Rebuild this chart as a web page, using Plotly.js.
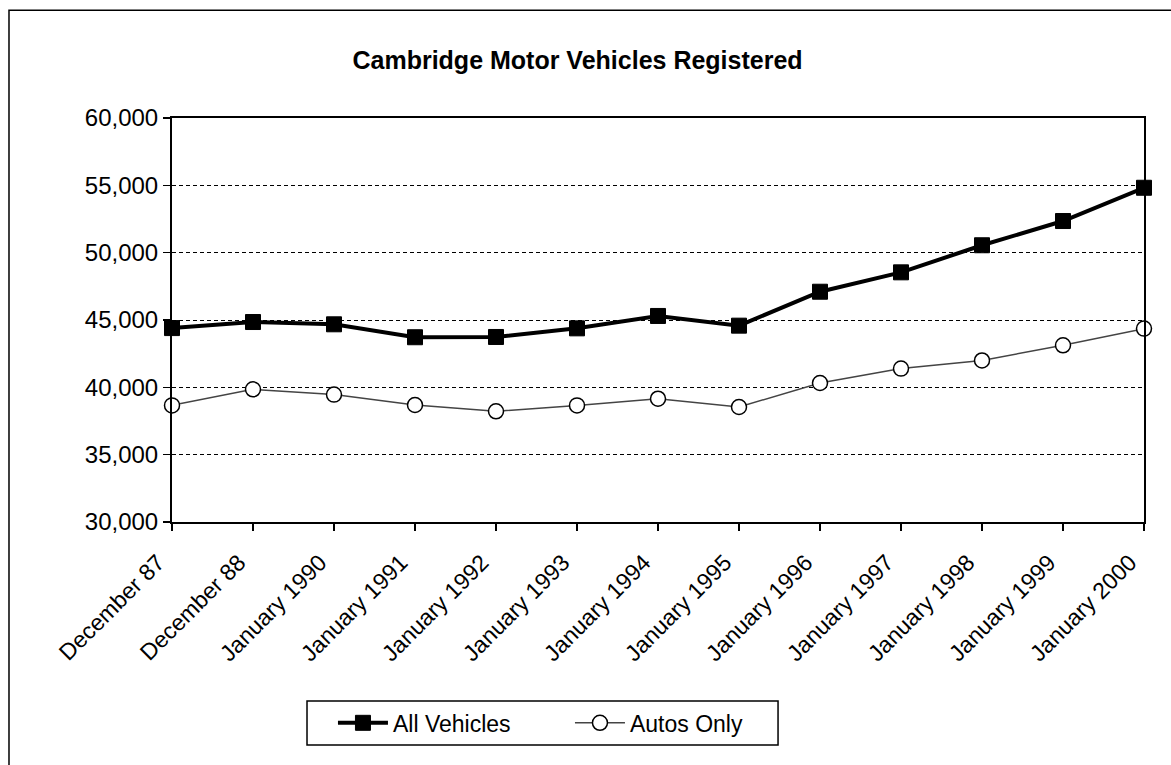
<!DOCTYPE html>
<html>
<head>
<meta charset="utf-8">
<script src="https://cdn.plot.ly/plotly-3.0.1.min.js"></script>
<style>
html,body{margin:0;padding:0;background:#fff;}
#chart{width:1171px;height:765px;}
</style>
</head>
<body>
<div id="chart"></div>
<script>
var categories = ["December 87","December 88","January 1990","January 1991","January 1992","January 1993","January 1994","January 1995","January 1996","January 1997","January 1998","January 1999","January 2000"];
var allVehicles = [44400,44850,44680,43720,43740,44380,45300,44580,47100,48540,50550,52350,54820];
var autosOnly = [38660,39850,39460,38690,38220,38660,39160,38540,40320,41390,42000,43120,44360];
var yTickVals = [30000,35000,40000,45000,50000,55000,60000];
var yTickText = ["30,000","35,000","40,000","45,000","50,000","55,000","60,000"];

var font = "Liberation Sans, Arial, sans-serif";

var traces = [
  {
    x: categories, y: allVehicles, name: "All Vehicles", type: "scatter", mode: "lines+markers",
    line: {color: "#000", width: 4},
    marker: {symbol: "square", size: 15, color: "#000", line: {color: "#000", width: 1}},
    cliponaxis: false
  },
  {
    x: categories, y: autosOnly, name: "Autos Only", type: "scatter", mode: "lines+markers",
    line: {color: "#444", width: 1.5},
    marker: {symbol: "circle", size: 15, color: "#fff", line: {color: "#000", width: 1.5}},
    cliponaxis: false
  }
];

var layout = {
  width: 1171, height: 765,
  margin: {l: 172, r: 27, t: 118, b: 243},
  paper_bgcolor: "#fff", plot_bgcolor: "#fff",
  font: {family: font, color: "#000", size: 23},
  title: {text: "<b>Cambridge Motor Vehicles Registered</b>", font: {family: font, size: 25, color: "#000"}, x: 0.4932, xanchor: "center", y: 0.921, yanchor: "middle"},
  showlegend: true,
  legend: {
    orientation: "h", x: 0.1656, xanchor: "left", y: -0.444, yanchor: "top",
    borderwidth: 0, bgcolor: "rgba(0,0,0,0)",
    font: {family: font, size: 23, color: "#000"},
    entrywidth: 172, entrywidthmode: "pixels",
    itemwidth: 50
  },
  xaxis: {
    type: "category", range: [0, 12], showgrid: false,
    showline: true, linecolor: "#000", linewidth: 2, mirror: true,
    ticks: "outside", ticklen: 7, tickcolor: "#000", tickwidth: 1.5,
    tickangle: -45, tickfont: {family: font, size: 23, color: "#000"},
    ticklabelstandoff: 9, ticklabelshift: -14,
    zeroline: false, automargin: false
  },
  yaxis: {
    range: [30000, 60000], tickvals: yTickVals, ticktext: yTickText,
    showgrid: true, gridcolor: "#000", gridwidth: 1, griddash: "4px,3px",
    showline: true, linecolor: "#000", linewidth: 2, mirror: true,
    ticks: "outside", ticklen: 7, tickcolor: "#000", tickwidth: 1.5,
    tickfont: {family: font, size: 24, color: "#000"},
    zeroline: false, automargin: false
  },
  shapes: [
    {type: "rect", xref: "paper", yref: "paper", x0: -0.1677, x1: 1.2, y0: 1.267, y1: -0.8,
     line: {color: "#000", width: 1.5}, fillcolor: "rgba(0,0,0,0)", layer: "below"},
    {type: "rect", xref: "paper", yref: "paper", x0: 0.1389, x1: 0.6235, y0: -0.443, y1: -0.552,
     line: {color: "#000", width: 1.5}, fillcolor: "rgba(0,0,0,0)", layer: "below"}
  ]
};

Plotly.newPlot("chart", traces, layout, {displayModeBar: false, staticPlot: true});
</script>
</body>
</html>
